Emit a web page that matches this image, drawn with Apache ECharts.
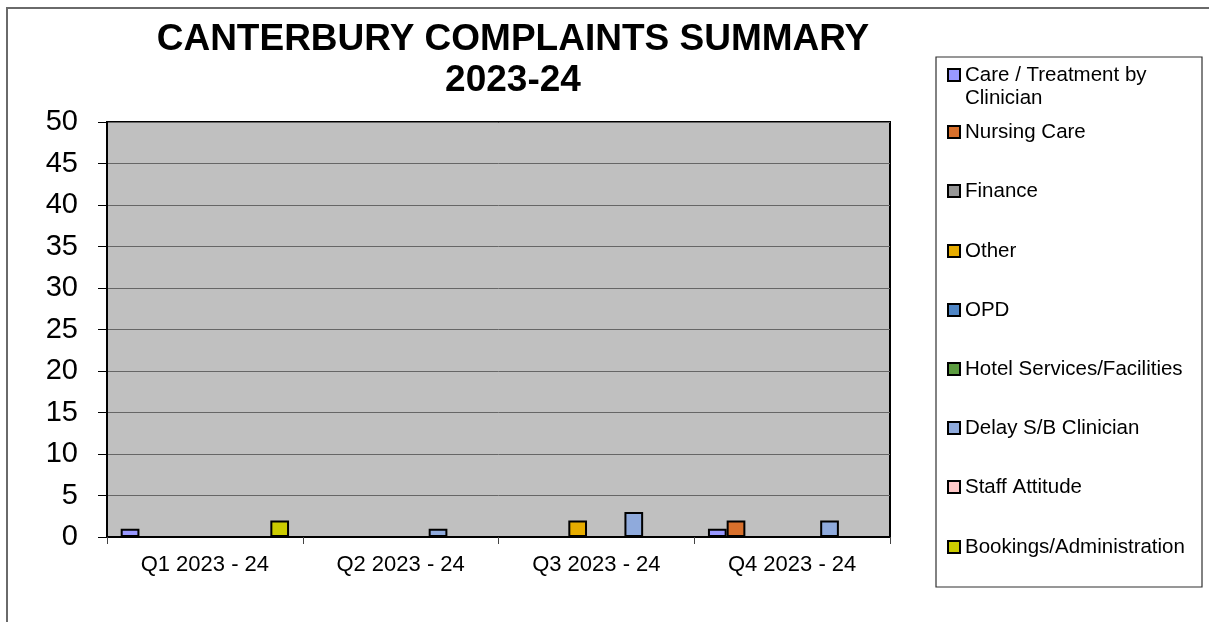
<!DOCTYPE html>
<html>
<head>
<meta charset="utf-8">
<script src="https://cdn.jsdelivr.net/npm/echarts@6/dist/echarts.min.js"></script>
<style>
html,body{margin:0;padding:0;background:#fff;}
#chart{width:1209px;height:622px;}
</style>
</head>
<body>
<div id="chart"></div>
<script>
var categories = ['Q1 2023 - 24', 'Q2 2023 - 24', 'Q3 2023 - 24', 'Q4 2023 - 24'];
var seriesNames = ['Care / Treatment by Clinician', 'Nursing Care', 'Finance', 'Other', 'OPD',
  'Hotel Services/Facilities', 'Delay S/B Clinician', 'Staff Attitude', 'Bookings/Administration'];
var careTreatment = [1, 0, 0, 1];
var nursingCare = [0, 0, 0, 2];
var finance = [0, 0, 0, 0];
var other = [0, 0, 2, 0];
var opd = [0, 0, 0, 0];
var hotelServices = [0, 0, 0, 0];
var delayClinician = [0, 1, 3, 2];
var staffAttitude = [0, 0, 0, 0];
var bookingsAdmin = [2, 0, 0, 0];
var yTicks = [0, 5, 10, 15, 20, 25, 30, 35, 40, 45, 50];

var seriesValues = [careTreatment, nursingCare, finance, other, opd, hotelServices, delayClinician, staffAttitude, bookingsAdmin];
var colors = ['#9999FF', '#D8702C', '#969696', '#E6AC00', '#4F86C6', '#5B9B3F', '#8FAADC', '#FFC8C8', '#CCCC00'];
var legendCenters = [75, 132, 191, 251, 310, 369, 428, 487, 547];

var FONT = 'Liberation Sans, Arial, sans-serif';
var chart = echarts.init(document.getElementById('chart'));

var series = seriesNames.map(function (name, i) {
  return {
    name: name,
    type: 'bar',
    barGap: '0%',
    barCategoryGap: '14%',
    data: seriesValues[i].map(function (v) { return v === 0 ? null : v; }),
    itemStyle: { color: colors[i], borderColor: '#000', borderWidth: 2 },
    emphasis: { disabled: true }
  };
});

var legends = seriesNames.map(function (name, i) {
  var first = i === 0;
  var lh = 23;
  var h = first ? lh * 3 : lh;
  return {
    data: [name],
    orient: 'vertical',
    left: 947,
    top: legendCenters[i] - h / 2,
    padding: 0,
    icon: 'rect',
    itemWidth: 12,
    itemHeight: 12,
    itemStyle: { borderColor: '#000', borderWidth: 2 },
    formatter: first ? function () { return '\nCare / Treatment by\nClinician'; } : '{name}',
    textStyle: { fontFamily: FONT, fontSize: 20.5, color: '#000', lineHeight: lh },
    selectedMode: false
  };
});

chart.setOption({
  animation: false,
  color: colors,
  title: {
    text: 'CANTERBURY COMPLAINTS SUMMARY\n2023-24',
    left: 508,
    top: 14,
    textAlign: 'center',
    textStyle: { fontFamily: FONT, fontSize: 37, fontWeight: 'bold', color: '#000', lineHeight: 41 }
  },
  graphic: [
    { type: 'rect', shape: { x: 7, y: 8, width: 1300, height: 700 }, style: { fill: 'none', stroke: '#6a6a6a', lineWidth: 2 }, silent: true, z: -10 },
    { type: 'rect', shape: { x: 936, y: 57, width: 266, height: 530 }, style: { fill: 'none', stroke: '#303030', lineWidth: 1.2 }, silent: true, z: -10 }
  ],
  legend: legends,
  grid: {
    left: 107, right: 1209 - 890, top: 122, bottom: 622 - 537,
    show: true, backgroundColor: '#C0C0C0', borderColor: '#000', borderWidth: 2,
    containLabel: false
  },
  xAxis: {
    type: 'category',
    data: categories,
    axisLine: { lineStyle: { color: '#000', width: 2 } },
    axisTick: { show: true, length: 7, alignWithLabel: false, lineStyle: { color: '#444', width: 1 } },
    axisLabel: { fontFamily: FONT, fontSize: 22, color: '#000', margin: 17 },
    splitLine: { show: false }
  },
  yAxis: {
    type: 'value',
    min: yTicks[0],
    max: yTicks[yTicks.length - 1],
    interval: yTicks[1] - yTicks[0],
    axisLine: { show: true, lineStyle: { color: '#000', width: 2 } },
    axisTick: { show: true, length: 9, lineStyle: { color: '#000', width: 1 } },
    axisLabel: { fontFamily: FONT, fontSize: 29, color: '#000', margin: 29 },
    splitLine: { show: true, lineStyle: { color: '#666', width: 1 } }
  },
  series: series
});
</script>
</body>
</html>
